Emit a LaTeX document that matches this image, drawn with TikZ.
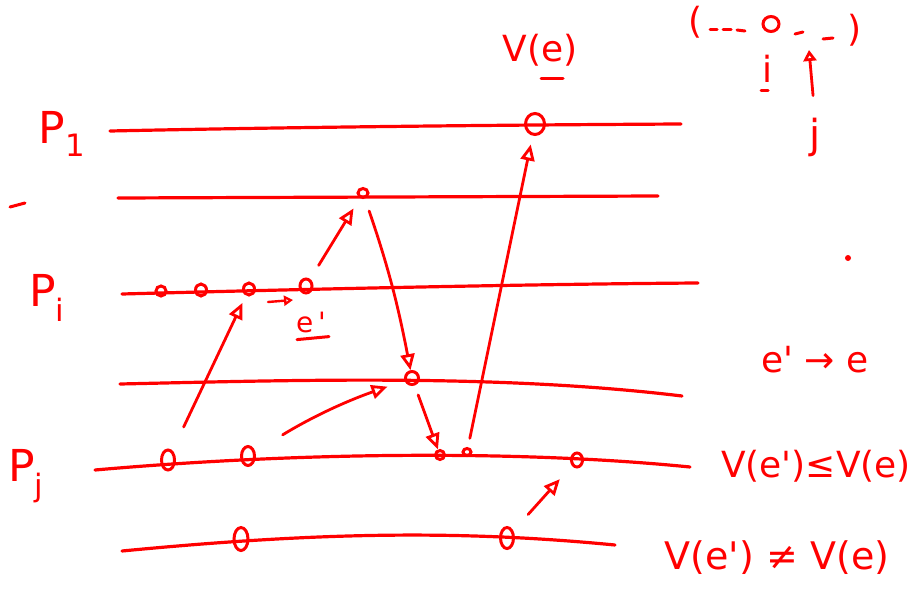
\documentclass[tikz,border=0pt]{standalone}
\usepackage{fontspec}
\setmainfont{DejaVu Sans}
\usetikzlibrary{arrows.meta, positioning, shapes.geometric}
\definecolor{inkred}{HTML}{FF0000}

\begin{document}
\begin{tikzpicture}[
    x=1pt, y=-1pt,
    lifeline/.style={
        draw=inkred, line width=3.2pt, line cap=round
    },
    event/.style={
        ellipse, draw=inkred, line width=3pt, inner sep=0pt,
        minimum width=10pt, minimum height=10pt
    },
    msg/.style={
        draw=inkred, line width=2.8pt, line cap=round,
        -{Triangle[open, length=16pt, width=14pt]}
    },
    ink/.style={
        text=inkred, inner sep=0pt, font=\fontsize{36}{40}\selectfont
    },
    procname/.style={
        ink, font=\fontsize{44}{48}\selectfont
    },
    scribble/.style={
        draw=inkred, line width=3pt, line cap=round
    },
]
\useasboundingbox (0,0) rectangle (915,591);

% === Lifelines ===
\draw[lifeline] (110,131) .. controls (300,127) and (500,125) .. (681,124);
\draw[lifeline] (118,198) -- (658,196);
\draw[lifeline] (122,294) .. controls (350,288) and (550,284) .. (698,283);
\draw[lifeline] (120,384) .. controls (300,380) and (500,374) .. (682,396);
\draw[lifeline] (95,470) .. controls (300,452) and (520,450) .. (690,467);
\draw[lifeline] (122,551) .. controls (320,532) and (460,530) .. (615,545);

% === Process names ===
\node[procname] (p1) at (62,134) {P\textsubscript{1}};
\node[procname] (pi) at (47,298) {P\textsubscript{i}};
\node[procname] (pj) at (26,476) {P\textsubscript{j}};

% === Events ===
\node[event, minimum width=19pt, minimum height=21pt] (e1) at (535,124) {};
\node[event, minimum width=10pt, minimum height=9pt] (e2) at (363,193) {};
\node[event] (ei1) at (161,291) {};
\node[event, minimum width=11pt, minimum height=12pt] (ei2) at (201,290) {};
\node[event, minimum width=11pt, minimum height=12pt] (ei3) at (249,289) {};
\node[event, minimum width=12pt, minimum height=14pt] (ei4) at (306,286) {};
\node[event, minimum width=13pt, minimum height=13pt] (e4) at (412,378) {};
\node[event, minimum width=13pt, minimum height=20pt] (ej1) at (168,460) {};
\node[event, minimum width=13pt, minimum height=19pt] (ej2) at (248,456) {};
\node[event, minimum width=9pt, minimum height=9pt] (ej3) at (440,455) {};
\node[event, minimum width=8pt, minimum height=7pt] (ej4) at (467,452) {};
\node[event, minimum width=11pt, minimum height=14pt] (ej5) at (577,460) {};
\node[event, minimum width=14pt, minimum height=23pt] (ek1) at (241,539) {};
\node[event, minimum width=13pt, minimum height=21pt] (ek2) at (507,538) {};

% === Messages ===
\draw[msg, shorten <=26pt, shorten >=8pt] (ej1) -- (ei3);
\draw[msg, shorten <=16pt, shorten >=12pt] (ei4) -- (e2);
\draw[msg, shorten <=13pt] (e2) to[bend left=4] (e4);
\draw[msg, shorten <=10pt] (e4) -- (ej3);
\draw[msg, shorten <=32pt, shorten >=18pt] (ej2) to[bend left=6] (e4);
\draw[msg, shorten <=9pt, shorten >=9pt] (ej4) -- (e1);
\draw[msg, shorten <=22pt, shorten >=18pt] (ek2) -- (ej5);

% === Labels ===
\node[ink] (ve) at (540,50) {V(e)};
\draw[scribble] ([xshift=1pt, yshift=-12pt]ve.south) -- ([xshift=23pt, yshift=-12pt]ve.south);

\node[ink, font=\fontsize{28}{32}\selectfont] (eprime) at (311,322) {e\,\textquotesingle};
\draw[scribble] ([xshift=-14pt, yshift=-7pt]eprime.south) -- ([xshift=18pt, yshift=-4pt]eprime.south);
\coordinate (ptr1) at (268,302);
\coordinate (ptr2) at (293,300);
\draw[msg, line width=2.4pt, -{Triangle[open, length=9pt, width=10pt]}] (ptr1) -- (ptr2);

\node[ink] (order) at (815,360) {e\textquotesingle{} → e};
\node[ink] (vle) at (816,466) {V(e\textquotesingle)≤V(e)};
\node[ink, font=\fontsize{38}{42}\selectfont] (vne) at (777,558) {V(e\textquotesingle) ≠ V(e)};

% === Sequence sketch (top right) ===
\node[ink] (lpar) at (696,22) {(};
\node[ink] (rpar) at (855,30) {)};
\draw[scribble] (710,30) -- (717,30);
\draw[scribble] (723,30) -- (731,30);
\draw[scribble] (737,30) -- (745,31);
\node[event, minimum width=16pt, minimum height=15pt] (seqo) at (771,24) {};
\draw[scribble] (795,34) -- (803,32);
\draw[scribble] (823,39) -- (833,38);
\node[ink] (idx) at (767,69) {i};
\draw[scribble] ([xshift=-6pt, yshift=-8pt]idx.south) -- ([xshift=1pt, yshift=-8pt]idx.south);
\node[ink, font=\fontsize{40}{44}\selectfont] (jdx) at (815,137) {j};
\coordinate (seqtip) at (809,50);
\draw[msg, -{Triangle[open, length=11pt, width=13pt]}, shorten <=22pt] (jdx.north) -- (seqtip);

% stray marks
\draw[scribble] (10,207) -- (25,203);
\fill[inkred] (848,258) circle (3);

\end{tikzpicture}
\end{document}
